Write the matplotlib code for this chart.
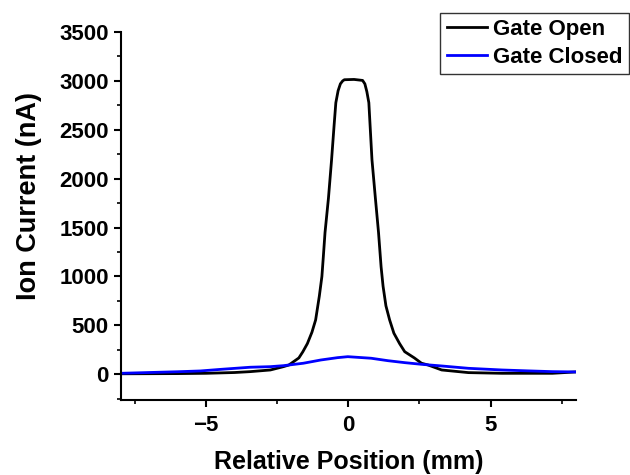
import numpy as np
import matplotlib
matplotlib.use("Agg")
import matplotlib.pyplot as plt
from matplotlib.ticker import MultipleLocator

plt.rcParams['font.family'] = ['Liberation Sans', 'DejaVu Sans']
plt.rcParams['font.weight'] = 'bold'

# Gate open scan
open_x = [-8, -7, -6, -5, -4, -3.45, -2.74, -2.28, -2.09, -1.74, -1.6, -1.44,
          -1.28, -1.15, -1.02, -0.93, -0.88, -0.82, -0.7, -0.59, -0.5, -0.44,
          -0.36, -0.28, -0.2, -0.14, 0.2, 0.5, 0.58, 0.65, 0.72, 0.83, 0.95,
          1.06, 1.15, 1.22, 1.32, 1.45, 1.6, 1.8, 1.98, 2.32, 2.57, 2.8,
          3.28, 4.22, 5.4, 7.17, 8]
open_y = [5, 6, 7, 10, 18, 27, 44, 78, 95, 167, 230, 314,
          430, 556, 800, 1000, 1200, 1450, 1800, 2193, 2550, 2777,
          2900, 2970, 3000, 3012, 3015, 3005, 2970, 2890, 2777, 2193, 1800,
          1450, 1100, 900, 700, 556, 420, 314, 231, 167, 113, 95,
          44, 17, 10, 10, 24]

# Gate closed scan
closed_x = [-8, -7, -6, -5.2, -4.5, -3.45, -2.74, -2.28, -2.0, -1.58, -0.97,
            -0.38, -0.02, 0.8, 1.39, 1.98, 2.57, 3.28, 4.22, 5.4, 6.3, 7.17, 8]
closed_y = [10, 18, 26, 34, 50, 72, 78, 88, 98, 113, 146,
            170, 180, 164, 139, 119, 102, 85, 61, 44, 35, 27, 24]

fig = plt.figure(figsize=(6.3, 4.75), dpi=100)
ax = fig.add_axes([0.1916, 0.1579, 0.7227, 0.7747])

ax.plot(open_x, open_y, color='black', lw=2.0, label='Gate Open')
ax.plot(closed_x, closed_y, color='#0000ff', lw=2.0, label='Gate Closed')

ax.set_xlim(-8, 8)
ax.set_ylim(-263, 3500)
ax.xaxis.set_major_locator(MultipleLocator(5))
ax.xaxis.set_minor_locator(MultipleLocator(2.5))
ax.yaxis.set_major_locator(MultipleLocator(500))
ax.yaxis.set_minor_locator(MultipleLocator(250))

for side in ['top', 'right']:
    ax.spines[side].set_visible(False)
for side in ['left', 'bottom']:
    ax.spines[side].set_linewidth(1.5)

ax.tick_params(which='major', direction='out', length=5, width=1.5,
               labelsize=16)
ax.tick_params(axis='x', which='major', pad=6)
ax.tick_params(which='minor', direction='out', length=3, width=1.2)
for lab in ax.get_xticklabels() + ax.get_yticklabels():
    lab.set_fontweight('bold')

ax.set_xlabel('Relative Position (mm)', fontsize=18, fontweight='bold',
              labelpad=10)
ax.set_ylabel('Ion Current (nA)', fontsize=19.5, fontweight='bold')
ax.yaxis.set_label_coords(-0.173, 0.555)

leg = ax.legend(loc='upper right', bbox_to_anchor=(629 / 630, 1 - 13 / 475),
                bbox_transform=fig.transFigure, borderaxespad=0,
                prop={'weight': 'bold', 'size': 16},
                frameon=True, fancybox=False, handlelength=1.8,
                handletextpad=0.3, borderpad=0.28, labelspacing=0.3)
leg.get_frame().set_edgecolor('black')
leg.get_frame().set_linewidth(1.0)

fig.savefig('out.png', dpi=100)
